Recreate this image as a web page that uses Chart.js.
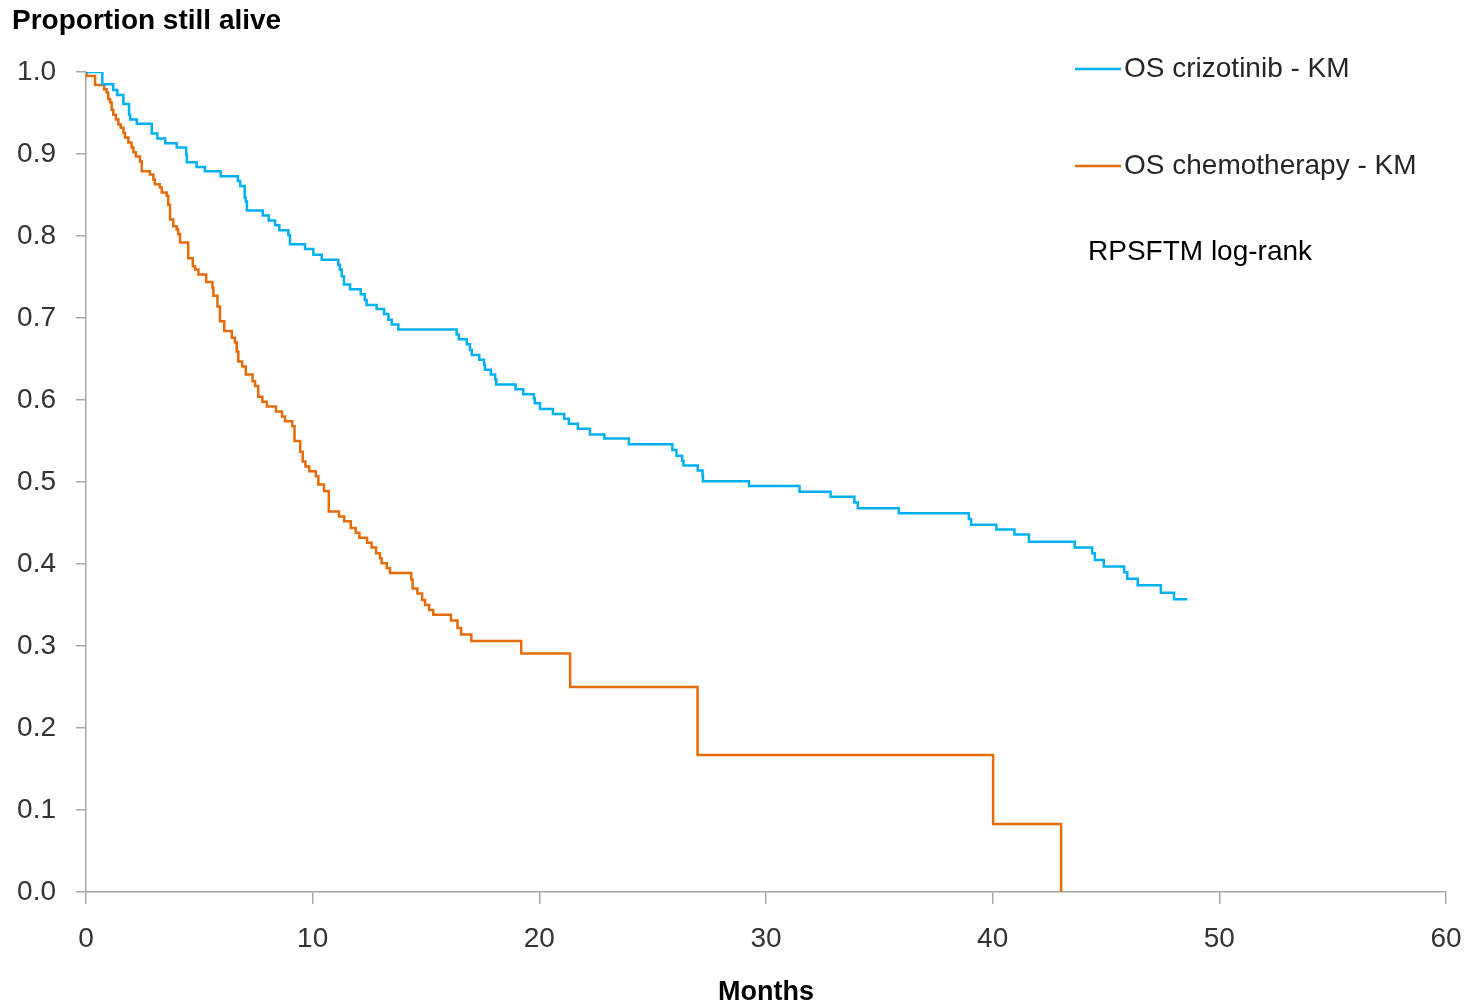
<!DOCTYPE html>
<html>
<head>
<meta charset="utf-8">
<title>Overall survival</title>
<script src="https://cdn.jsdelivr.net/npm/chart.js@4.4.1/dist/chart.umd.min.js"></script>
<style>
	html, body { margin: 0; padding: 0; background: #fff; }
	#km-chart { display: block; }
</style>
</head>
<body>
<canvas id="km-chart" width="1474" height="1004"></canvas>
<script>
// Kaplan-Meier step points: time (months) where the estimate drops, and the new value
const crizTimes = [0, 0.72, 1.2, 1.38, 1.65, 1.9, 1.95, 2.24, 2.9, 3.15, 3.49, 4.0, 4.42, 4.45, 4.88, 5.25, 5.94,
	6.7, 6.8, 7.0, 7.05, 7.1, 7.8, 8.06, 8.34, 8.53, 8.93, 9.0, 9.66, 10.03, 10.4, 11.13, 11.2, 11.28, 11.38,
	11.65, 12.12, 12.3, 12.38, 12.82, 13.15, 13.34, 13.49, 13.78, 16.35, 16.45, 16.8, 16.94, 17.02, 17.35,
	17.56, 17.6, 17.86, 18.05, 18.1, 18.95, 19.29, 19.76, 19.8, 20.03, 20.6, 21.1, 21.3, 21.7, 22.23, 22.87,
	23.95, 25.87, 26.05, 26.3, 26.36, 26.99, 27.2, 27.22, 29.25, 31.48, 32.85, 33.9, 34.05, 35.86, 38.95,
	39.05, 40.16, 40.96, 41.6, 43.62, 44.39, 44.51, 44.9, 45.8, 45.94, 46.4, 47.42, 48.0, 48.59];
const crizSurv = [1.0, 0.985, 0.978, 0.972, 0.961, 0.948, 0.942, 0.937, 0.925, 0.919, 0.913, 0.908, 0.899, 0.89,
	0.884, 0.879, 0.873, 0.867, 0.861, 0.847, 0.842, 0.831, 0.825, 0.819, 0.813, 0.807, 0.801, 0.79, 0.784,
	0.777, 0.771, 0.765, 0.759, 0.751, 0.741, 0.735, 0.729, 0.722, 0.716, 0.711, 0.705, 0.698, 0.692, 0.686,
	0.68, 0.674, 0.668, 0.661, 0.655, 0.649, 0.643, 0.637, 0.631, 0.625, 0.619, 0.613, 0.607, 0.602, 0.596,
	0.589, 0.583, 0.577, 0.571, 0.565, 0.558, 0.553, 0.546, 0.539, 0.532, 0.526, 0.52, 0.514, 0.508, 0.501,
	0.495, 0.488, 0.482, 0.475, 0.468, 0.462, 0.455, 0.448, 0.442, 0.436, 0.427, 0.42, 0.413, 0.405, 0.397,
	0.39, 0.382, 0.374, 0.365, 0.357, 0.357];

const chemoTimes = [0, 0.03, 0.4, 0.8, 0.91, 0.98, 1.06, 1.13, 1.2, 1.32, 1.43, 1.53, 1.65, 1.72, 1.87, 2.01,
	2.09, 2.2, 2.38, 2.46, 2.82, 2.97, 3.04, 3.26, 3.34, 3.56, 3.63, 3.71, 3.85, 4.0, 4.07, 4.15, 4.51, 4.71,
	4.81, 4.96, 5.3, 5.58, 5.62, 5.8, 5.91, 6.1, 6.43, 6.57, 6.65, 6.72, 6.89, 7.05, 7.35, 7.46, 7.6, 7.78,
	7.98, 8.38, 8.65, 8.78, 9.1, 9.2, 9.45, 9.56, 9.68, 9.85, 10.14, 10.25, 10.5, 10.71, 11.16, 11.39, 11.68,
	11.9, 12.06, 12.4, 12.6, 12.8, 12.97, 13.04, 13.27, 13.41, 14.35, 14.41, 14.62, 14.83, 14.96, 15.14,
	15.32, 16.1, 16.39, 16.55, 17.0, 19.2, 21.36, 26.98, 40.02, 43.02];
const chemoSurv = [1.0, 0.995, 0.984, 0.979, 0.975, 0.967, 0.963, 0.954, 0.948, 0.942, 0.936, 0.932, 0.926,
	0.92, 0.914, 0.908, 0.902, 0.897, 0.891, 0.879, 0.875, 0.869, 0.863, 0.859, 0.853, 0.849, 0.838, 0.82,
	0.812, 0.808, 0.802, 0.792, 0.773, 0.763, 0.759, 0.753, 0.744, 0.737, 0.727, 0.714, 0.696, 0.684, 0.676,
	0.67, 0.659, 0.647, 0.641, 0.631, 0.623, 0.617, 0.604, 0.598, 0.592, 0.586, 0.58, 0.574, 0.568, 0.55,
	0.537, 0.525, 0.519, 0.513, 0.507, 0.497, 0.489, 0.464, 0.458, 0.452, 0.444, 0.438, 0.432, 0.426, 0.42,
	0.413, 0.407, 0.401, 0.395, 0.389, 0.381, 0.37, 0.364, 0.356, 0.35, 0.344, 0.338, 0.331, 0.322, 0.314,
	0.306, 0.291, 0.25, 0.167, 0.083, 0.0];

const seriesLabels = ["OS crizotinib - KM", "OS chemotherapy - KM"];
const seriesColors = ["#00b0f0", "#e46c0a"];
const xTicks = [0, 10, 20, 30, 40, 50, 60];
const yTicks = [0, 0.1, 0.2, 0.3, 0.4, 0.5, 0.6, 0.7, 0.8, 0.9, 1.0];
const noteText = "RPSFTM log-rank";

const FONT = "'Liberation Sans', Arial, sans-serif";

function toPoints(times, surv) {
	return times.map((t, i) => ({ x: t, y: surv[i] }));
}

// axis heading, legend and note drawn straight onto the canvas
const textPlugin = {
	id: "kmText",
	afterDraw(chart) {
		const ctx = chart.ctx;
		ctx.save();
		ctx.textBaseline = "middle";
		ctx.textAlign = "left";

		ctx.fillStyle = "#000";
		ctx.font = "bold 28px " + FONT;
		ctx.fillText("Proportion still alive", 12, 21);

		const rows = [69, 166];
		chart.data.datasets.forEach((ds, i) => {
			ctx.strokeStyle = ds.borderColor;
			ctx.lineWidth = 2.5;
			ctx.beginPath();
			ctx.moveTo(1075, rows[i]);
			ctx.lineTo(1121, rows[i]);
			ctx.stroke();
			ctx.fillStyle = "#262626";
			ctx.font = "28px " + FONT;
			ctx.fillText(ds.label, 1124, rows[i]);
		});

		ctx.fillStyle = "#000";
		ctx.font = "28px " + FONT;
		ctx.fillText(noteText, 1088, 252);
		ctx.restore();
	}
};

const axisGrey = "#a6a6a6";

const kmChart = new Chart(document.getElementById("km-chart").getContext("2d"), {
	type: "line",
	data: {
		datasets: [
			{
				label: seriesLabels[0],
				data: toPoints(crizTimes, crizSurv),
				borderColor: seriesColors[0],
				backgroundColor: seriesColors[0],
				borderWidth: 2.5,
				stepped: "before",
				pointRadius: 0,
				fill: false
			},
			{
				label: seriesLabels[1],
				data: toPoints(chemoTimes, chemoSurv),
				borderColor: seriesColors[1],
				backgroundColor: seriesColors[1],
				borderWidth: 2.5,
				stepped: "before",
				pointRadius: 0,
				fill: false
			}
		]
	},
	options: {
		responsive: false,
		animation: false,
		layout: { padding: { top: 72, right: 28, left: 0, bottom: 0 } },
		plugins: {
			legend: { display: false },
			tooltip: { enabled: false }
		},
		scales: {
			x: {
				type: "linear",
				min: 0,
				max: 60,
				afterFit: (scale) => {
					scale.height = 112;
					scale.paddingLeft = 0;
					scale.paddingRight = 0;
				},
				afterBuildTicks: (scale) => { scale.ticks = xTicks.map((v) => ({ value: v })); },
				border: { color: axisGrey, width: 1.5 },
				grid: { drawOnChartArea: false, tickLength: 12, color: axisGrey, lineWidth: 1.5 },
				ticks: {
					padding: 18,
					color: "#333",
					font: { family: FONT, size: 28 },
					maxRotation: 0
				},
				title: {
					display: true,
					text: "Months",
					color: "#000",
					font: { family: FONT, size: 27, weight: "bold" },
					padding: { top: 0, bottom: -5 }
				}
			},
			y: {
				min: 0,
				max: 1,
				afterFit: (scale) => {
					scale.width = 86;
					scale.paddingTop = 0;
					scale.paddingBottom = 0;
				},
				afterBuildTicks: (scale) => { scale.ticks = yTicks.map((v) => ({ value: v })); },
				border: { color: axisGrey, width: 1.5 },
				grid: { drawOnChartArea: false, tickLength: 10, color: axisGrey, lineWidth: 1.5 },
				ticks: {
					padding: 20,
					color: "#333",
					font: { family: FONT, size: 28 },
					callback: (v) => v.toFixed(1)
				}
			}
		}
	},
	plugins: [textPlugin]
});
</script>
</body>
</html>
